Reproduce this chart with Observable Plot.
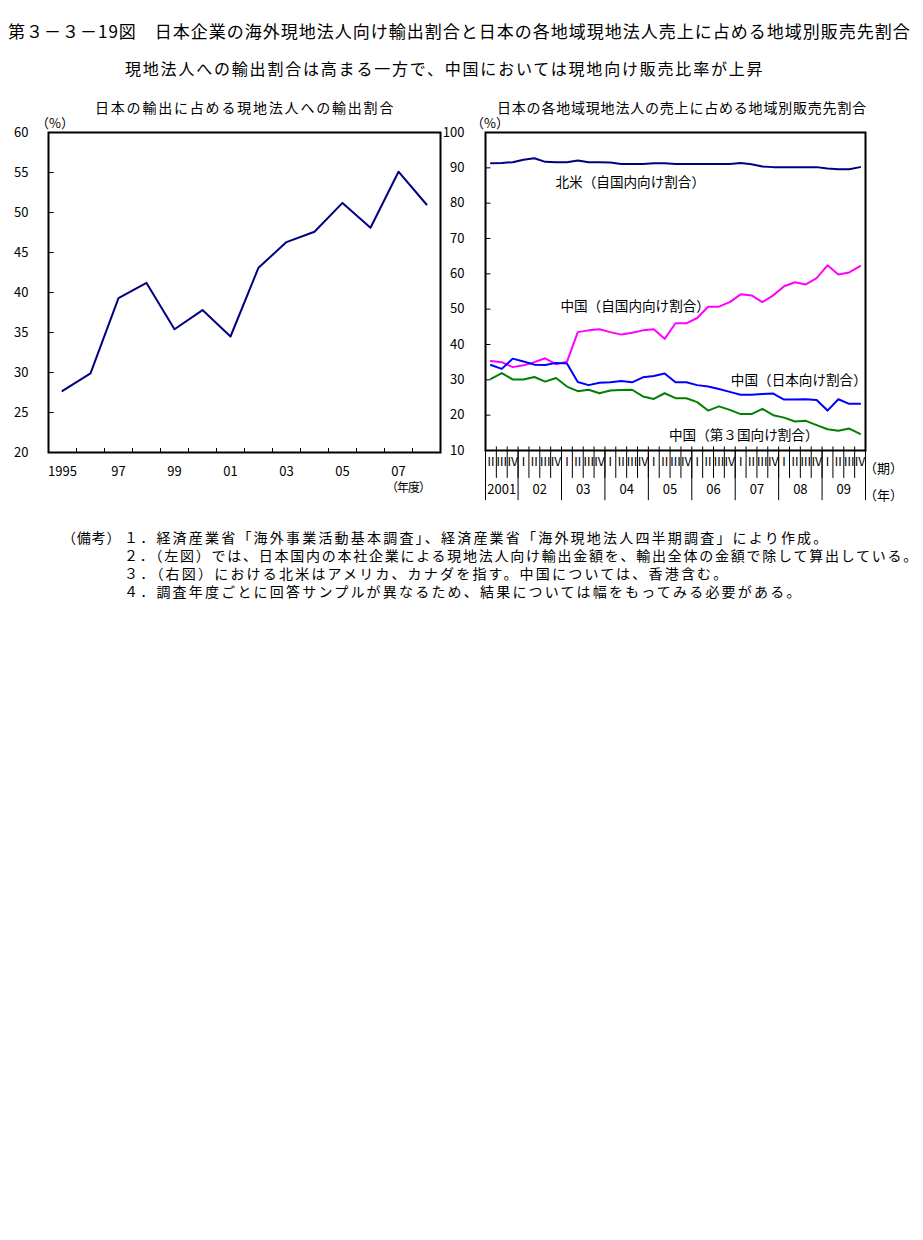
<!DOCTYPE html>
<html><head><meta charset="utf-8">
<script src="https://cdn.jsdelivr.net/npm/d3@7"></script>
<script src="https://cdn.jsdelivr.net/npm/@observablehq/plot@0.6"></script>
<style>
body{margin:0;background:#fff;width:923px;height:1240px;position:relative;overflow:hidden;font-family:"Noto Sans CJK JP",sans-serif;color:#000}
.t{position:absolute;white-space:nowrap;line-height:1}
#left{position:absolute;left:0;top:100px}
#right{position:absolute;left:440px;top:100px}
</style></head><body>
<div class="t" style="left:8px;top:22px;font-size:17px;letter-spacing:1px">第３－３－19図　日本企業の海外現地法人向け輸出割合と日本の各地域現地法人売上に占める地域別販売先割合</div>
<div class="t" style="left:125px;top:60px;font-size:16px;letter-spacing:1.8px">現地法人への輸出割合は高まる一方で、中国においては現地向け販売比率が上昇</div>
<div class="t" style="left:95px;top:100px;font-size:14px;letter-spacing:1.8px">日本の輸出に占める現地法人への輸出割合</div>
<div class="t" style="left:497px;top:100px;font-size:14px;letter-spacing:0.8px">日本の各地域現地法人の売上に占める地域別販売先割合</div>
<div id="left"></div>
<div id="right"></div>
<div class="t" style="left:36px;top:116px;font-size:13px">（%）</div>
<div class="t" style="left:471px;top:116px;font-size:13px">（%）</div>
<div class="t" style="left:386px;top:481px;font-size:12px;letter-spacing:-1px">（年度）</div>
<div class="t" style="left:864px;top:461px;font-size:13px">（期）</div>
<div class="t" style="left:864px;top:488px;font-size:13px">（年）</div>
<div class="t" style="left:62px;top:530px;font-size:14px;letter-spacing:0.8px">（備考）</div>
<div class="t" style="left:124px;top:530px;font-size:14px;letter-spacing:2.2px">１．経済産業省「海外事業活動基本調査」、経済産業省「海外現地法人四半期調査」により作成。</div>
<div class="t" style="left:124px;top:548px;font-size:14px;letter-spacing:1.75px">２．（左図）では、日本国内の本社企業による現地法人向け輸出金額を、輸出全体の金額で除して算出している。</div>
<div class="t" style="left:124px;top:566px;font-size:14px;letter-spacing:2.2px">３．（右図）における北米はアメリカ、カナダを指す。中国については、香港含む。</div>
<div class="t" style="left:124px;top:584px;font-size:14px;letter-spacing:2.2px">４．調査年度ごとに回答サンプルが異なるため、結果については幅をもってみる必要がある。</div>
<script>
// ---------- Left chart data ----------
const fiscalYears = [1995, 1996, 1997, 1998, 1999, 2000, 2001, 2002, 2003, 2004, 2005, 2006, 2007, 2008];
const exportShareToAffiliates = [27.7, 29.9, 39.3, 41.2, 35.4, 37.8, 34.5, 43.1, 46.3, 47.6, 51.2, 48.1, 55.1, 51.0];
const leftTickYears = [1995, 1997, 1999, 2001, 2003, 2005, 2007];
const leftTickLabels = ["1995", "97", "99", "01", "03", "05", "07"];
const leftYTicks = [20, 25, 30, 35, 40, 45, 50, 55, 60];

// ---------- Right chart data (2001 II .. 2009 IV) ----------
const yearLabels = ["2001", "02", "03", "04", "05", "06", "07", "08", "09"];
const quarterNames = ["Ⅰ", "Ⅱ", "Ⅲ", "Ⅳ"];
const northAmericaDomestic = [91.3, 91.4, 91.6, 92.3, 92.7, 91.7, 91.6, 91.6, 92.1, 91.6, 91.6, 91.5, 91.1, 91.1, 91.1, 91.3, 91.3, 91.1, 91.1, 91.1, 91.1, 91.1, 91.1, 91.4, 91.0, 90.4, 90.2, 90.2, 90.2, 90.2, 90.2, 89.8, 89.6, 89.6, 90.2];
const chinaDomestic = [35.3, 35.0, 33.6, 34.1, 35.0, 36.1, 34.4, 35.1, 43.5, 44.0, 44.3, 43.5, 42.8, 43.3, 44.0, 44.3, 41.6, 46.0, 46.0, 47.5, 50.7, 50.7, 52.0, 54.2, 53.9, 52.0, 53.9, 56.5, 57.6, 57.0, 58.8, 62.4, 59.8, 60.4, 62.2];
const chinaToJapan = [34.2, 33.1, 36.0, 35.2, 34.3, 34.2, 34.8, 34.6, 29.4, 28.5, 29.2, 29.3, 29.7, 29.3, 30.7, 31.1, 31.8, 29.3, 29.3, 28.5, 28.1, 27.4, 26.6, 25.8, 25.8, 26.0, 26.1, 24.4, 24.4, 24.5, 24.3, 21.3, 24.5, 23.2, 23.2];
const chinaToThird = [30.3, 31.9, 30.1, 30.1, 30.8, 29.5, 30.5, 28.1, 26.8, 27.2, 26.2, 27.0, 27.1, 27.2, 25.3, 24.6, 26.2, 24.8, 24.8, 23.7, 21.3, 22.5, 21.5, 20.3, 20.3, 21.8, 20.0, 19.3, 18.2, 18.4, 17.2, 16.0, 15.6, 16.2, 14.7];
const rightYTicks = [10, 20, 30, 40, 50, 60, 70, 80, 90, 100];

const jp = "'Noto Sans CJK JP', sans-serif";

// ---------- Left chart ----------
const leftData = fiscalYears.map((y, i) => ({year: y, value: exportShareToAffiliates[i]}));
const left = Plot.plot({
  width: 450, height: 400,
  marginLeft: 48, marginRight: 10, marginTop: 32, marginBottom: 48,
  style: {fontFamily: jp, fontSize: "13px", background: "transparent", overflow: "visible"},
  x: {domain: [1994.5, 2008.5], ticks: leftTickYears, tickFormat: d => leftTickLabels[leftTickYears.indexOf(d)], tickSize: 0, tickPadding: 14, label: null},
  y: {domain: [20, 60], ticks: leftYTicks, tickSize: 0, tickPadding: 20, label: null},
  marks: [
    Plot.ruleY(leftYTicks.slice(1, -1), {y: d => d, x1: 1994.5, x2: 1994.7, stroke: "black", strokeWidth: 1}),
    Plot.ruleX(d3.range(1995.5, 2008, 1), {x: d => d, y1: 20, y2: 20.5, stroke: "black", strokeWidth: 1}),
    Plot.line(leftData, {x: "year", y: "value", stroke: "#000080", strokeWidth: 2}),
    Plot.frame({stroke: "black", strokeWidth: 2})
  ]
});
document.getElementById("left").appendChild(left);

// ---------- Right chart ----------
const periods = [];
yearLabels.forEach((yl, k) => {
  for (let q = (k === 0 ? 1 : 0); q < 4; q++) periods.push({year: yl, q: quarterNames[q]});
});
const series = [
  {name: "北米（自国内向け割合）", values: northAmericaDomestic, color: "#000080"},
  {name: "中国（自国内向け割合）", values: chinaDomestic, color: "#ff00ff"},
  {name: "中国（日本向け割合）", values: chinaToJapan, color: "#0000ff"},
  {name: "中国（第３国向け割合）", values: chinaToThird, color: "#008000"}
];
const yearCenters = yearLabels.map((d, k) => k === 0 ? 1 : 4.5 + 4 * (k - 1));
const yearBounds = [-0.5].concat(yearLabels.map((d, k) => 2.5 + 4 * k));
const quarterBounds = d3.range(periods.length + 1).map(k => k - 0.5);

const right = Plot.plot({
  width: 483, height: 410,
  marginLeft: 45, marginRight: 58, marginTop: 32, marginBottom: 60,
  style: {fontFamily: jp, fontSize: "13px", background: "transparent", overflow: "visible"},
  x: {domain: [-0.5, periods.length - 0.5], axis: null},
  y: {domain: [10, 100], ticks: rightYTicks, tickSize: 0, tickPadding: 21, label: null},
  marks: [
    Plot.ruleY(rightYTicks.slice(1, -1), {y: d => d, x1: -0.5, x2: 0, stroke: "black", strokeWidth: 1}),
    Plot.ruleX(quarterBounds, {x: d => d, y1: 11, y2: 2.1, stroke: "black", strokeWidth: 1}),
    Plot.ruleX(yearBounds, {x: d => d, y1: 10, y2: -4.2, stroke: "black", strokeWidth: 1}),
    Plot.text(periods, {x: (d, i) => i, frameAnchor: "bottom", dy: 15, text: "q", fontSize: 12}),
    Plot.text(yearLabels, {x: (d, k) => yearCenters[k], frameAnchor: "bottom", dy: 43, text: d => d, fontSize: 13}),
    ...series.map(s => Plot.line(s.values, {x: (d, i) => i, y: d => d, stroke: s.color, strokeWidth: 2})),
    Plot.text([series[0]], {x: 5.95, y: 85.7, text: "name", textAnchor: "start", fontSize: 13.6}),
    Plot.text([series[1]], {x: 6.4, y: 50.8, text: "name", textAnchor: "start", fontSize: 13.6}),
    Plot.text([series[2]], {x: 22.1, y: 29.8, text: "name", textAnchor: "start", fontSize: 13.6}),
    Plot.text([series[3]], {x: 16.4, y: 14.2, text: "name", textAnchor: "start", fontSize: 13.6}),
    Plot.frame({stroke: "black", strokeWidth: 2})
  ]
});
document.getElementById("right").appendChild(right);
</script>
</body></html>
